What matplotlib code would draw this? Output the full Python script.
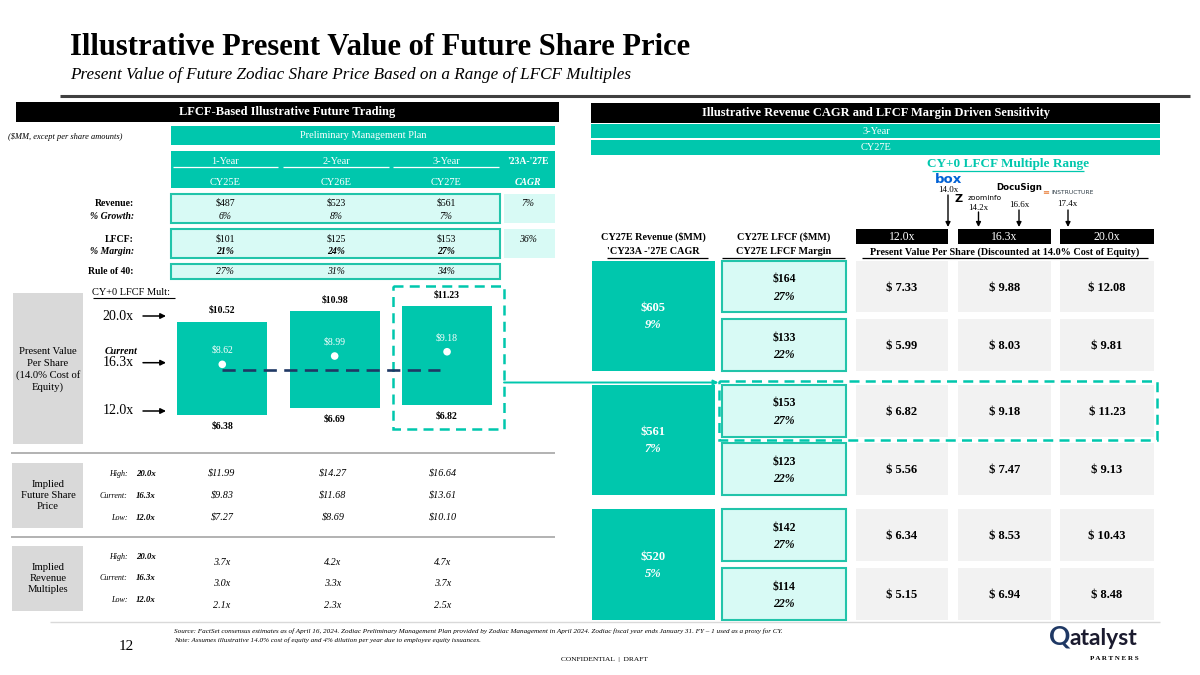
import matplotlib
matplotlib.use("Agg")
import matplotlib.pyplot as plt
from matplotlib.patches import Rectangle

# ------------------------------------------------------------------ data
title = "Illustrative Present Value of Future Share Price"
subtitle = "Present Value of Future Zodiac Share Price Based on a Range of LFCF Multiples"

period_labels = ["1-Year", "2-Year", "3-Year"]
cy_labels = ["CY25E", "CY26E", "CY27E"]
revenue = [487, 523, 561]
revenue_growth = [6, 8, 7]
revenue_cagr = 7
lfcf = [101, 125, 153]
lfcf_margin = [21, 24, 27]
lfcf_cagr = 36
rule_of_40 = [27, 31, 34]

pv_low = [6.38, 6.69, 6.82]
pv_current = [8.62, 8.99, 9.18]
pv_high = [10.52, 10.98, 11.23]
current_price = 8.37

mult_names = ["High:", "Current:", "Low:"]
mult_values = ["20.0x", "16.3x", "12.0x"]
future_price = [[11.99, 14.27, 16.64],
                [9.83, 11.68, 13.61],
                [7.27, 8.69, 10.10]]
revenue_multiple = [[3.7, 4.2, 4.7],
                    [3.0, 3.3, 3.7],
                    [2.1, 2.3, 2.5]]

sens_revenue = [605, 561, 520]
sens_cagr = [9, 7, 5]
sens_lfcf = [164, 133, 153, 123, 142, 114]
sens_margin = [27, 22, 27, 22, 27, 22]
sens_multiples = ["12.0x", "16.3x", "20.0x"]
sens_pv = [[7.33, 9.88, 12.08],
           [5.99, 8.03, 9.81],
           [6.82, 9.18, 11.23],
           [5.56, 7.47, 9.13],
           [6.34, 8.53, 10.43],
           [5.15, 6.94, 8.48]]
peer_names = ["box", "zoominfo", "DocuSign", "INSTRUCTURE"]
peer_multiples = [14.0, 14.2, 16.6, 17.4]

source_lines = [
    "Source: FactSet consensus estimates as of April 16, 2024. Zodiac Preliminary Management Plan provided by Zodiac Management in April 2024. Zodiac fiscal year ends January 31. FY \u2013 1 used as a proxy for CY.",
    "Note: Assumes illustrative 14.0% cost of equity and 4% dilution per year due to employee equity issuances.",
]

# ------------------------------------------------------------------ style
plt.rcParams['font.family'] = ['Liberation Serif', 'DejaVu Serif']
TEAL = "#00C7AD"
TEAL_EDGE = "#22C4AA"
LIGHT = "#D8FAF5"
GRAYCELL = "#F2F2F2"
LABELGRAY = "#D9D9D9"
NAVY = "#1F3864"
SEP = "#A6A6A6"

fig = plt.figure(figsize=(12, 6.75), dpi=100)
ov = fig.add_axes([0, 0, 1, 1])
ov.set_xlim(0, 1200)
ov.set_ylim(675, 0)
ov.axis('off')


def box(x0, y0, x1, y1, fc='none', ec='none', lw=0, ls='-', z=1):
    ov.add_patch(Rectangle((x0, y0), x1 - x0, y1 - y0, facecolor=fc,
                           edgecolor=ec, linewidth=lw, linestyle=ls, zorder=z))


def txt(x, y, s, size=7.5, weight='normal', style='normal', color='black',
        ha='center', va='center', **kw):
    ov.text(x, y, s, fontsize=size, fontweight=weight, fontstyle=style,
            color=color, ha=ha, va=va, zorder=5, **kw)


def hline(x0, x1, y, color='black', lw=1.0, **kw):
    ov.plot([x0, x1], [y, y], color=color, lw=lw, solid_capstyle='butt', zorder=4, **kw)


def arrow(x0, y0, x1, y1, color='black', lw=1.0, ms=7):
    ov.annotate('', xy=(x1, y1), xytext=(x0, y0),
                arrowprops=dict(arrowstyle='-|>', color=color, lw=lw,
                                mutation_scale=ms, shrinkA=0, shrinkB=0), zorder=5)


# ------------------------------------------------------------------ title
txt(70, 55, title, size=22, weight='bold', ha='left', va='baseline')
txt(70, 79, subtitle, size=12.3, style='italic', ha='left', va='baseline')
hline(60, 1190, 95.5, color='#404040', lw=2.2)

# ------------------------------------------------------------------ left panel
box(16, 102.3, 558.6, 122.3, fc='black')
txt(287, 112.5, "LFCF-Based Illustrative Future Trading", size=9, weight='bold', color='white')
txt(8, 136.7, "($MM, except per share amounts)", size=6, style='italic', ha='left')

box(171, 125.7, 555, 145, fc=TEAL)
txt(363, 135.5, "Preliminary Management Plan", size=7.5, color='white')
box(171, 151, 555, 188.3, fc=TEAL)

col_x = [225, 336, 446]
col_span = [(173, 278), (283, 389), (393, 499)]
cagr_x = 528
for i, lab in enumerate(period_labels):
    txt(col_x[i], 161.5, lab, size=7.5, color='white')
    hline(col_span[i][0], col_span[i][1], 167, color='white', lw=0.9)
    txt(col_x[i], 182.5, cy_labels[i], size=7.5, color='white')
txt(cagr_x, 161.5, "'23A-'27E", size=7, weight='bold', color='white')
txt(cagr_x, 182.5, "CAGR", size=7, weight='bold', style='italic', color='white')

# row boxes
box(171, 194, 500, 222.7, fc=LIGHT, ec=TEAL_EDGE, lw=1.5)
box(504, 194, 555, 222.7, fc=LIGHT)
box(171, 229, 500, 258, fc=LIGHT, ec=TEAL_EDGE, lw=1.5)
box(504, 229, 555, 258, fc=LIGHT)
box(171, 264, 500, 279, fc=LIGHT, ec=TEAL_EDGE, lw=1.5)

lab_x = 134
txt(lab_x, 203.3, "Revenue:", size=7, weight='bold', ha='right')
txt(lab_x, 216.7, "% Growth:", size=7, weight='bold', style='italic', ha='right')
txt(lab_x, 239, "LFCF:", size=7, weight='bold', ha='right')
txt(lab_x, 251.7, "% Margin:", size=7, weight='bold', style='italic', ha='right')
txt(lab_x, 271.7, "Rule of 40:", size=7, weight='bold', ha='right')
for i in range(3):
    txt(col_x[i], 203.3, f"${revenue[i]}", size=7)
    txt(col_x[i], 216.7, f"{revenue_growth[i]}%", size=7, style='italic')
    txt(col_x[i], 239, f"${lfcf[i]}", size=7)
    txt(col_x[i], 251.7, f"{lfcf_margin[i]}%", size=7, style='italic', weight='bold')
    txt(col_x[i], 271.7, f"{rule_of_40[i]}%", size=7, style='italic')
txt(cagr_x, 203.3, f"{revenue_cagr}%", size=7, style='italic')
txt(cagr_x, 239, f"{lfcf_cagr}%", size=7, style='italic')

# football-field chart labels
txt(92.5, 292.7, "CY+0 LFCF Mult:", size=7.5, ha='left')
hline(92.5, 175, 298.2, lw=0.8)
box(13, 293, 83, 444, fc=LABELGRAY)
txt(48, 369.5, "Present Value\nPer Share\n(14.0% Cost of\nEquity)", size=7.7, linespacing=1.3)

arrow_rows = [316, 362.7, 411]
for y, m in zip(arrow_rows, mult_values):
    txt(118, y, m, size=10)
    arrow(143, y, 166, y, lw=1.1, ms=8)
txt(121, 351.3, "Current", size=7.2, weight='bold', style='italic')

# bar chart in its own axes (data coordinates)
ax = fig.add_axes([150 / 1200, 1 - 450 / 675, 370 / 1200, 170 / 675])
ax.set_xlim(-0.643, 2.649)
ax.set_ylim(4.813, 12.369)
ax.axis('off')
ax.patch.set_alpha(0)
xs = list(range(len(pv_low)))
heights = [h - l for h, l in zip(pv_high, pv_low)]
ax.bar(xs, heights, bottom=pv_low, width=0.8, color=TEAL, zorder=2)
ax.scatter(xs, pv_current, s=30, color='white', zorder=4, edgecolors='none')
ax.plot([xs[0], xs[-1] - 0.065], [current_price, current_price], ls='--',
        color=NAVY, lw=1.9, dashes=(5, 2.8), zorder=3)
for x, lo, mid, hi in zip(xs, pv_low, pv_current, pv_high):
    ax.annotate(f"${hi:.2f}", (x, hi), xytext=(0, 8), textcoords='offset points',
                ha='center', va='center', fontsize=7, fontweight='bold')
    ax.annotate(f"${lo:.2f}", (x, lo), xytext=(0, -8), textcoords='offset points',
                ha='center', va='center', fontsize=7, fontweight='bold')
    ax.annotate(f"${mid:.2f}", (x, mid), xytext=(0, 10), textcoords='offset points',
                ha='center', va='center', fontsize=7, color='white')

txt(463, 365.5, "Current", size=7, color=NAVY)
txt(462, 379, f"Price: ${current_price:.2f}", size=7, color=NAVY)
box(393, 286, 504, 429, ec=TEAL, lw=1.8, ls=(0, (4, 2.5)), z=3)
arrow(504, 382.5, 718.5, 382.5, color=TEAL, lw=1.4, ms=7)

# implied tables
hline(11, 555, 453, color=SEP, lw=1.2)
hline(11, 555, 536.7, color=SEP, lw=1.2)

box(12, 462.7, 83, 527.7, fc=LABELGRAY)
txt(48, 495.2, "Implied\nFuture Share\nPrice", size=7.7, linespacing=1.3)
fp_rows = [474, 495.7, 517.7]
for r, y in enumerate(fp_rows):
    txt(127.6, y, mult_names[r], size=5.8, style='italic', ha='right')
    txt(146, y, mult_values[r], size=6.3, weight='bold', style='italic')
    for i in range(3):
        txt(col_x[i] - 3, y, f"${future_price[r][i]:.2f}", size=7.3, style='italic')

box(12, 545.7, 83, 611, fc=LABELGRAY)
txt(48, 578.5, "Implied\nRevenue\nMultiples", size=7.7, linespacing=1.3)
rm_lab_rows = [557.3, 578.3, 600]
rm_val_rows = [562.7, 584, 605]
for r in range(3):
    txt(127.6, rm_lab_rows[r], mult_names[r], size=5.8, style='italic', ha='right')
    txt(146, rm_lab_rows[r], mult_values[r], size=6.3, weight='bold', style='italic')
    for i in range(3):
        txt(col_x[i] - 3, rm_val_rows[r], f"{revenue_multiple[r][i]:.1f}x", size=7.3, style='italic')

# ------------------------------------------------------------------ right panel
box(591, 103, 1160, 123, fc='black')
txt(876, 113, "Illustrative Revenue CAGR and LFCF Margin Driven Sensitivity", size=9, weight='bold', color='white')
box(591, 124.3, 1160, 138.5, fc=TEAL)
txt(876, 131.4, "3-Year", size=7.5, color='white')
box(591, 140, 1160, 155, fc=TEAL)
txt(876, 147.5, "CY27E", size=7.5, color='white')

txt(1008, 164.3, "CY+0 LFCF Multiple Range", size=9.5, weight='bold', color=TEAL)
hline(932, 1084, 170.8, color=TEAL, lw=0.9)

# peers
txt(948, 179.5, peer_names[0], size=9.5, weight='bold', color='#0061D5', family='DejaVu Sans')
txt(948, 190, f"{peer_multiples[0]:.1f}x", size=6.5)
arrow(948, 195, 948, 227)
txt(959, 199, "Z", size=8, weight='bold', family='DejaVu Sans')
txt(985, 198.5, peer_names[1], size=5.3, family='DejaVu Sans')
txt(978.5, 207.7, f"{peer_multiples[1]:.1f}x", size=6.5)
arrow(978.5, 212, 978.5, 227)
txt(1019, 187.5, peer_names[2], size=6.2, weight='bold', family='DejaVu Sans')
txt(1019, 205, f"{peer_multiples[2]:.1f}x", size=6.5)
arrow(1019, 210, 1019, 227)
txt(1046, 193, "\u2261", size=6, color='#E8762D', family='DejaVu Sans')
txt(1072.5, 193, peer_names[3], size=4.3, color='#2D3B45', family='DejaVu Sans')
txt(1067, 204, f"{peer_multiples[3]:.1f}x", size=6.5)
arrow(1068, 210, 1068, 227)

# column headers
txt(653, 236.7, "CY27E Revenue ($MM)", size=7.3, weight='bold')
txt(653, 251.7, "'CY23A -'27E CAGR", size=7.3, weight='bold')
hline(607, 708, 257.5, lw=0.9)
txt(784, 236.7, "CY27E LFCF ($MM)", size=7.3, weight='bold')
txt(784, 251.7, "CY27E LFCF Margin", size=7.3, weight='bold')
hline(722, 845, 257.5, lw=0.9)
pv_cols = [(855.5, 948), (957.7, 1051), (1060, 1154)]
for (x0, x1), m in zip(pv_cols, sens_multiples):
    box(x0, 229, x1, 244, fc='black')
    txt((x0 + x1) / 2, 236.6, m, size=8.5, color='white')
txt(1005, 251.7, "Present Value Per Share (Discounted at 14.0% Cost of Equity)", size=7.3, weight='bold')
hline(862, 1148, 257.5, lw=0.9)

# sensitivity grid
row_tops = [260.7, 319.3, 385, 443.3, 509.3, 568.3]
row_h = 51.6
for g in range(3):
    t = row_tops[2 * g]
    b = row_tops[2 * g + 1] + row_h
    box(591.5, t, 714.7, b, fc=TEAL)
    cy = (t + b) / 2
    txt(653, cy - 8, f"${sens_revenue[g]}", size=9, weight='bold', color='white')
    txt(653, cy + 9.5, f"{sens_cagr[g]}%", size=9, weight='bold', style='italic', color='white')
for r, t in enumerate(row_tops):
    cy = t + row_h / 2
    box(722, t, 846, t + row_h, fc=LIGHT, ec=TEAL_EDGE, lw=1.5)
    txt(784, cy - 7.5, f"${sens_lfcf[r]}", size=8.5, weight='bold')
    txt(784, cy + 10, f"{sens_margin[r]}%", size=8.5, weight='bold', style='italic')
    for c, (x0, x1) in enumerate(pv_cols):
        box(x0, t, x1, t + row_h, fc=GRAYCELL)
        txt((x0 + x1) / 2, cy + 1, f"$ {sens_pv[r][c]:.2f}", size=9, weight='bold')
box(718.5, 381, 1157, 440, ec=TEAL, lw=1.8, ls=(0, (4, 2.5)), z=3)

# ------------------------------------------------------------------ footer
hline(50, 1160, 621.5, color='#D9D9D9', lw=1.0)
txt(126, 646, "12", size=11)
txt(174.5, 631, source_lines[0], size=5.1, style='italic', ha='left')
txt(174.5, 640.5, source_lines[1], size=5.1, style='italic', ha='left')
txt(604, 659, "CONFIDENTIAL  |  DRAFT", size=5.3)
txt(1070, 645, "Q", size=19, weight='bold', color=NAVY, ha='right', va='baseline', family='Lato')
txt(1069, 645, "atalyst", size=16.5, weight='bold', color='#1B1B2F', ha='left', va='baseline', family='Lato')
txt(1139, 658, "P A R T N E R S", size=5, weight='bold', ha='right')

fig.savefig("out.png", dpi=100)
